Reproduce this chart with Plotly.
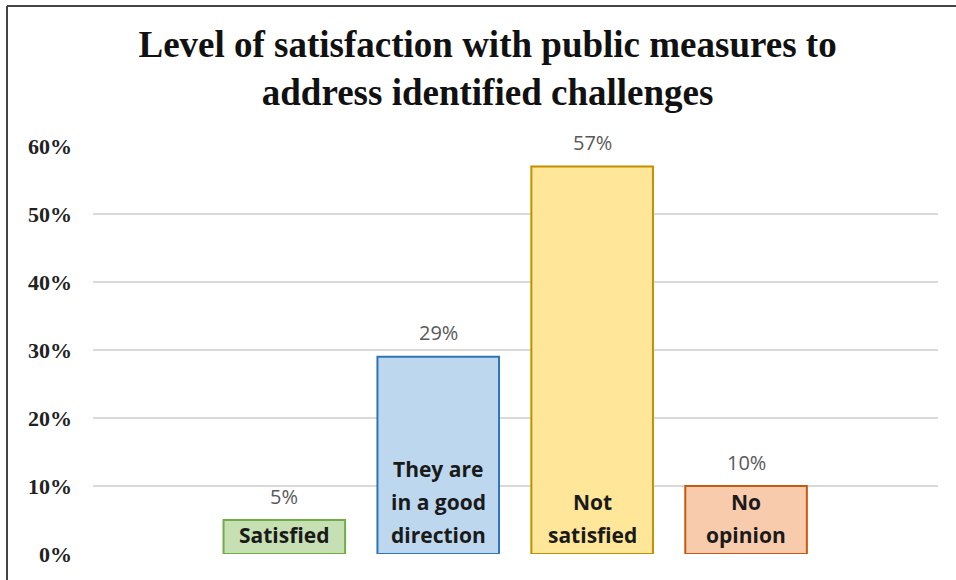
import plotly.graph_objects as go

# Survey results
categories = ["Satisfied", "They are<br>in a good<br>direction", "Not<br>satisfied", "No<br>opinion"]
shares = [0.05, 0.29, 0.57, 0.10]
value_labels = ["5%", "29%", "57%", "10%"]
fill_colors = ["#c6e0b4", "#bdd7ee", "#ffe699", "#f8cbad"]
edge_colors = ["#70ad47", "#2e75b6", "#bf9000", "#c55a11"]
y_ticks = [0, 0.1, 0.2, 0.3, 0.4, 0.5, 0.6]
y_tick_labels = ["0%", "10%", "20%", "30%", "40%", "50%", "60%"]

W, H = 956, 580
L, R, T, B = 93, 18, 146, 26
pw, ph = W - L - R, H - T - B

x_pos = list(range(len(categories)))

fig = go.Figure(
    go.Bar(
        x=x_pos,
        y=shares,
        width=0.79,
        marker=dict(color=fill_colors, line=dict(color=edge_colors, width=2)),
        hoverinfo="skip",
    )
)

label_font = "Open Sans, Lato, sans-serif"
annotations = []
# value labels above each bar
for xi, v, lab in zip(x_pos, shares, value_labels):
    annotations.append(dict(
        x=xi, y=v, xref="x", yref="y", text=lab, showarrow=False,
        yanchor="middle", yshift=24,
        font=dict(family=label_font, size=20, color="#595959"),
    ))
# category names written inside the bars, stacked from the bottom
for xi, cat in zip(x_pos, categories):
    lines = cat.split("<br>")
    n = len(lines)
    for k, line in enumerate(lines):
        annotations.append(dict(
            x=xi, y=0, xref="x", yref="y", text=f"<b>{line}</b>", showarrow=False,
            yanchor="middle", yshift=19 + 33 * (n - 1 - k),
            font=dict(family=label_font, size=21, color="#1a1a1a"),
        ))

def px_to_paper_x(px):
    return (px - L) / pw

def px_to_paper_y(py):
    return (H - B - py) / ph

frame = dict(color="#444444", width=2)
shapes = [
    dict(type="line", xref="paper", yref="paper",
         x0=px_to_paper_x(7), x1=px_to_paper_x(W + 5),
         y0=px_to_paper_y(6), y1=px_to_paper_y(6), line=frame),
    dict(type="line", xref="paper", yref="paper",
         x0=px_to_paper_x(7), x1=px_to_paper_x(7),
         y0=px_to_paper_y(6), y1=px_to_paper_y(H + 5), line=frame),
]

serif = "Liberation Serif, Times New Roman, serif"

fig.update_layout(
    width=W, height=H,
    margin=dict(l=L, r=R, t=T, b=B),
    paper_bgcolor="white", plot_bgcolor="white",
    showlegend=False,
    title=dict(
        text="<b>Level of satisfaction with public measures to<br>address identified challenges</b>",
        x=0.51, xref="container", xanchor="center",
        y=1 - 57 / H, yanchor="middle",
        font=dict(family=serif, size=37, color="#111111"),
    ),
    xaxis=dict(range=[-1.243, 4.247], showticklabels=False, showgrid=False,
               zeroline=False, showline=False, ticks=""),
    yaxis=dict(range=[0, 0.6], tickvals=y_ticks, ticktext=y_tick_labels,
               showgrid=True, gridcolor="#d9d9d9", gridwidth=1.5,
               zeroline=False, showline=False, ticks="", ticklabelstandoff=20,
               tickfont=dict(family=serif, size=22, color="#222222", weight="bold")),
    annotations=annotations,
    shapes=shapes,
)

fig.write_html("out.html")
